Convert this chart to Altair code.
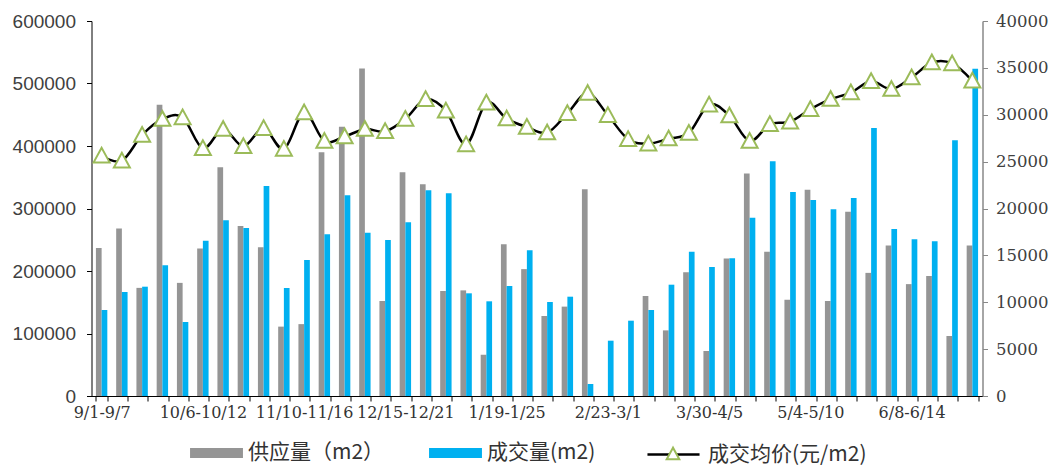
import json
import altair as alt
import pandas as pd

weeks = [
    "9/1-9/7", "9/8-9/14", "9/15-9/21", "9/22-9/28", "9/29-10/5",
    "10/6-10/12", "10/13-10/19", "10/20-10/26", "10/27-11/2", "11/3-11/9",
    "11/10-11/16", "11/17-11/23", "11/24-11/30", "12/1-12/7", "12/8-12/14",
    "12/15-12/21", "12/22-12/28", "12/29-1/4", "1/5-1/11", "1/12-1/18",
    "1/19-1/25", "1/26-2/1", "2/2-2/8", "2/9-2/15", "2/16-2/22",
    "2/23-3/1", "3/2-3/8", "3/9-3/15", "3/16-3/22", "3/23-3/29",
    "3/30-4/5", "4/6-4/12", "4/13-4/19", "4/20-4/26", "4/27-5/3",
    "5/4-5/10", "5/11-5/17", "5/18-5/24", "5/25-5/31", "6/1-6/7",
    "6/8-6/14", "6/15-6/21", "6/22-6/28", "6/29-7/5",
]
shown_labels = ["9/1-9/7", "10/6-10/12", "11/10-11/16", "12/15-12/21", "1/19-1/25",
                "2/23-3/1", "3/30-4/5", "5/4-5/10", "6/8-6/14"]

supply = [237000, 268000, 173000, 466000, 181000, 236000, 366000, 272000, 238000, 111000,
          115000, 390000, 431000, 524000, 152000, 358000, 339000, 168000, 169000, 66000,
          243000, 203000, 128000, 143000, 331000, 0, 0, 160000, 105000, 198000,
          72000, 220000, 356000, 231000, 154000, 330000, 152000, 295000, 197000, 241000,
          179000, 192000, 96000, 241000]
deal = [137600, 166400, 174900, 209100, 118400, 248500, 281100, 268800, 336000, 172800,
        217600, 258700, 321100, 261300, 249600, 277900, 329100, 324300, 164300, 151500,
        176000, 233100, 150400, 158900, 19200, 88500, 120500, 137600, 178100, 230900,
        206400, 220300, 285300, 375500, 326400, 313600, 298700, 316800, 428800, 267200,
        250700, 247500, 409100, 523700]
price = [25630, 25090, 27840, 29530, 29710, 26420, 28460, 26630, 28550, 26350,
         30240, 27200, 27680, 28460, 28230, 29550, 31650, 30420, 26830, 31270,
         29580, 28690, 28090, 30150, 32300, 29950, 27390, 26910, 27450, 28050,
         31070, 29900, 27200, 28990, 29250, 30590, 31660, 32370, 33570, 32730,
         33970, 35570, 35470, 33620]

series_names = ["供应量（m2）", "成交量(m2)"]
price_name = "成交均价(元/m2)"
marker_name = "marker"

bar_df = pd.DataFrame({
    "week": weeks * 2,
    "series": [series_names[0]] * len(weeks) + [series_names[1]] * len(weeks),
    "value": supply + deal,
})
price_df = pd.DataFrame({"week": weeks, "price": price, "name": price_name, "mk": marker_name})

TRI = "M0,-0.3L-0.3,0.25L0.3,0.25Z"
RECT = "M-1.26,-0.24L1.26,-0.24L1.26,0.24L-1.26,0.24Z"
LINE = "M-1.24,0L1.24,0"

SERIF = "DejaVu Serif"
SANS = "Liberation Sans"
CJK = "Noto Sans CJK SC"

label_expr = "indexof(" + json.dumps(shown_labels, ensure_ascii=False) + ", datum.value) >= 0 ? datum.label : ''"

x_axis = alt.Axis(title=None, labelAngle=0, labelExpr=label_expr, labelOverlap=False,
                  tickBand="extent", tickSize=5, tickColor="#000000", domainColor="#000000",
                  labelFont=SERIF, labelFontSize=16, labelColor="#333333",
                  labelPadding=3, grid=False)
x_enc = alt.X("week:N", sort=weeks,
              scale=alt.Scale(domain=weeks, paddingInner=0.437, paddingOuter=0.2185),
              axis=x_axis)

right_axis = alt.Axis(title=None, orient="right", values=list(range(0, 40001, 5000)),
                      format="d", grid=False, domainColor="#888888", domainWidth=1.5,
                      tickColor="#888888", tickSize=5, labelFont=SERIF, labelFontSize=16.5,
                      labelColor="#404040", labelPadding=8)
y_price = alt.Y("price:Q", scale=alt.Scale(domain=[0, 40000], nice=False), axis=right_axis)

LEG_Y = 411

bars = alt.Chart(bar_df).mark_bar().encode(
    x=x_enc,
    xOffset=alt.XOffset("series:N", sort=series_names,
                        scale=alt.Scale(domain=series_names, paddingInner=0, paddingOuter=0)),
    y=alt.Y("value:Q", scale=alt.Scale(domain=[0, 600000], nice=False),
            axis=alt.Axis(title=None, orient="left", values=list(range(0, 600001, 100000)),
                          format="d", grid=False, domainColor="#000000", tickColor="#000000",
                          tickSize=5, labelFont=SANS, labelFontSize=19, labelColor="#404040",
                          labelPadding=11)),
    color=alt.Color("series:N",
                    scale=alt.Scale(domain=series_names, range=["#959595", "#00B0F0"]),
                    legend=alt.Legend(title=None, orient="none", legendX=104, legendY=LEG_Y,
                                      direction="horizontal", symbolType=RECT, symbolSize=1764,
                                      symbolStrokeWidth=0, labelOffset=10.5, columnPadding=44,
                                      labelFont=CJK, labelFontSize=21,
                                      labelColor="#333333", labelLimit=300)),
)

line = alt.Chart(price_df).mark_line(strokeWidth=2.5, interpolate="cardinal").encode(
    x=x_enc,
    y=y_price,
    stroke=alt.Stroke("name:N", scale=alt.Scale(domain=[price_name], range=["#000000"]),
                      legend=alt.Legend(title=None, orient="none", legendX=559.5, legendY=LEG_Y,
                                        symbolType=LINE, symbolSize=1764, symbolStrokeWidth=2.5,
                                        labelOffset=12, labelFont=CJK, labelFontSize=21,
                                        labelColor="#333333", labelLimit=300)),
)

points = alt.Chart(price_df).mark_point(filled=True, fill="#ffffff", shape=TRI,
                                        strokeWidth=2, size=2844, opacity=1).encode(
    x=x_enc,
    y=y_price,
    stroke=alt.Stroke("mk:N", scale=alt.Scale(domain=[marker_name], range=["#9BBB59"]),
                      legend=alt.Legend(title=None, orient="none", legendX=559.5, legendY=LEG_Y,
                                        symbolType=TRI, symbolSize=1764, symbolStrokeWidth=2,
                                        symbolFillColor="#ffffff", labelOffset=12,
                                        labelExpr="''", labelFont=CJK, labelFontSize=21)),
)

price_layer = alt.layer(line, points).resolve_scale(stroke="independent")

chart = alt.layer(bars, price_layer).resolve_scale(y="independent", stroke="independent").properties(
    width=891, height=375,
    autosize=alt.AutoSizeParams(type="none"),
    padding={"left": 83.5, "top": 13, "right": 67.5, "bottom": 70},
).configure_view(stroke="transparent")

chart.save("out.html", embed_options={"renderer": "svg", "actions": False})
